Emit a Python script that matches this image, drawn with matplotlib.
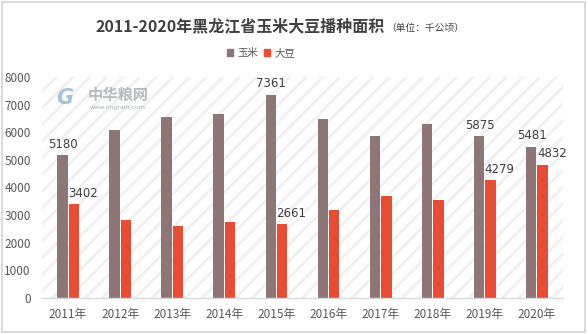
import matplotlib
matplotlib.use("Agg")
import matplotlib.pyplot as plt
from matplotlib.patches import Rectangle, Patch
import numpy as np

plt.rcParams['font.family'] = ['Noto Sans CJK SC', 'DejaVu Sans']
plt.rcParams['hatch.linewidth'] = 2.2

years = ["2011年", "2012年", "2013年", "2014年", "2015年",
         "2016年", "2017年", "2018年", "2019年", "2020年"]
corn = [5180, 6090, 6550, 6670, 7361, 6490, 5850, 6310, 5875, 5481]
soy = [3402, 2830, 2610, 2760, 2661, 3190, 3700, 3550, 4279, 4832]
corn_labels = {0: 5180, 4: 7361, 8: 5875, 9: 5481}
soy_labels = {0: 3402, 4: 2661, 8: 4279, 9: 4832}

corn_color = "#8E7676"
soy_color = "#E94B33"
text_color = "#595959"

fig = plt.figure(figsize=(5.88, 3.34), dpi=100)
W, H = 588, 334

# outer frame
fig.patches.append(Rectangle((2 / W, 2 / H), 583 / W, 330 / H, transform=fig.transFigure,
                             fill=False, edgecolor="#D4D4D4", linewidth=1.2))

ax = fig.add_axes([42 / W, 1 - 298 / H, 521 / W, 221 / H])
ax.set_facecolor("white")
ax.add_patch(Rectangle((0, 0), 1, 1, transform=ax.transAxes, facecolor="white",
                       edgecolor="#F1F1F1", hatch="//", linewidth=0, zorder=0))

x = np.arange(len(years))
bw = 0.2
ax.bar(x - bw / 2 - 0.01, corn, width=bw, color=corn_color, zorder=2)
ax.bar(x + bw / 2 + 0.01, soy, width=bw, color=soy_color, zorder=2)

for i, v in corn_labels.items():
    ax.annotate(str(v), (x[i] - bw / 2, corn[i]), xytext=(0, 3), textcoords="offset points",
                ha="center", va="bottom", fontsize=8.5, color="#404040",
                family=["DejaVu Sans"])
for i, v in soy_labels.items():
    ax.annotate(str(v), (x[i] + bw / 2, soy[i]), xytext=(7, 3), textcoords="offset points",
                ha="center", va="bottom", fontsize=8.5, color="#404040",
                family=["DejaVu Sans"])

ax.set_xlim(-0.5, len(years) - 0.5)
ax.set_ylim(0, 8000)
ax.set_yticks(range(0, 8001, 1000))
ax.set_xticks(x)
ax.set_xticklabels(years)
ax.tick_params(axis="both", length=0, labelsize=8.5, colors=text_color)
ax.tick_params(axis="y", pad=8)
ax.tick_params(axis="x", pad=7)
for s in ["left", "right", "top"]:
    ax.spines[s].set_visible(False)
ax.spines["bottom"].set_color("#D9D9D9")
ax.spines["bottom"].set_linewidth(1.0)

# title, with the unit note placed right after it
title = fig.text(96 / W, 1 - 31 / H, "2011-2020年黑龙江省玉米大豆播种面积", fontsize=11.5,
                 fontweight="bold", color="#404040", ha="left", va="baseline")
fig.canvas.draw()
bb = title.get_window_extent().transformed(fig.transFigure.inverted())
fig.text(bb.x1 + 1 / W, 1 - 31 / H, "（单位：千公顷）", fontsize=7, color="#404040",
         ha="left", va="baseline")

# legend
handles = [Patch(color=corn_color, label="玉米"), Patch(color=soy_color, label="大豆")]
fig.legend(handles=handles, loc="center", bbox_to_anchor=(261 / W, 1 - 53 / H), ncol=2,
           frameon=False, fontsize=7.5, handlelength=0.6, handleheight=0.6,
           handletextpad=0.4, columnspacing=0.6, labelcolor=text_color)

# watermark
fig.text(56 / W, 1 - 98 / H, "G", fontsize=15, fontweight="bold", style="italic",
         color="#6F9CC8", alpha=0.6, ha="left", va="center", family=["DejaVu Sans"])
fig.text(88 / W, 1 - 95 / H, "中华粮网", fontsize=11, fontweight="bold",
         color="#B5BBC2", ha="left", va="center")
fig.text(90 / W, 1 - 107 / H, "www.cngrain.com", fontsize=4.5, color="#A8AEB5",
         ha="left", va="center", family=["DejaVu Sans"])

fig.savefig("out.png", dpi=100)
